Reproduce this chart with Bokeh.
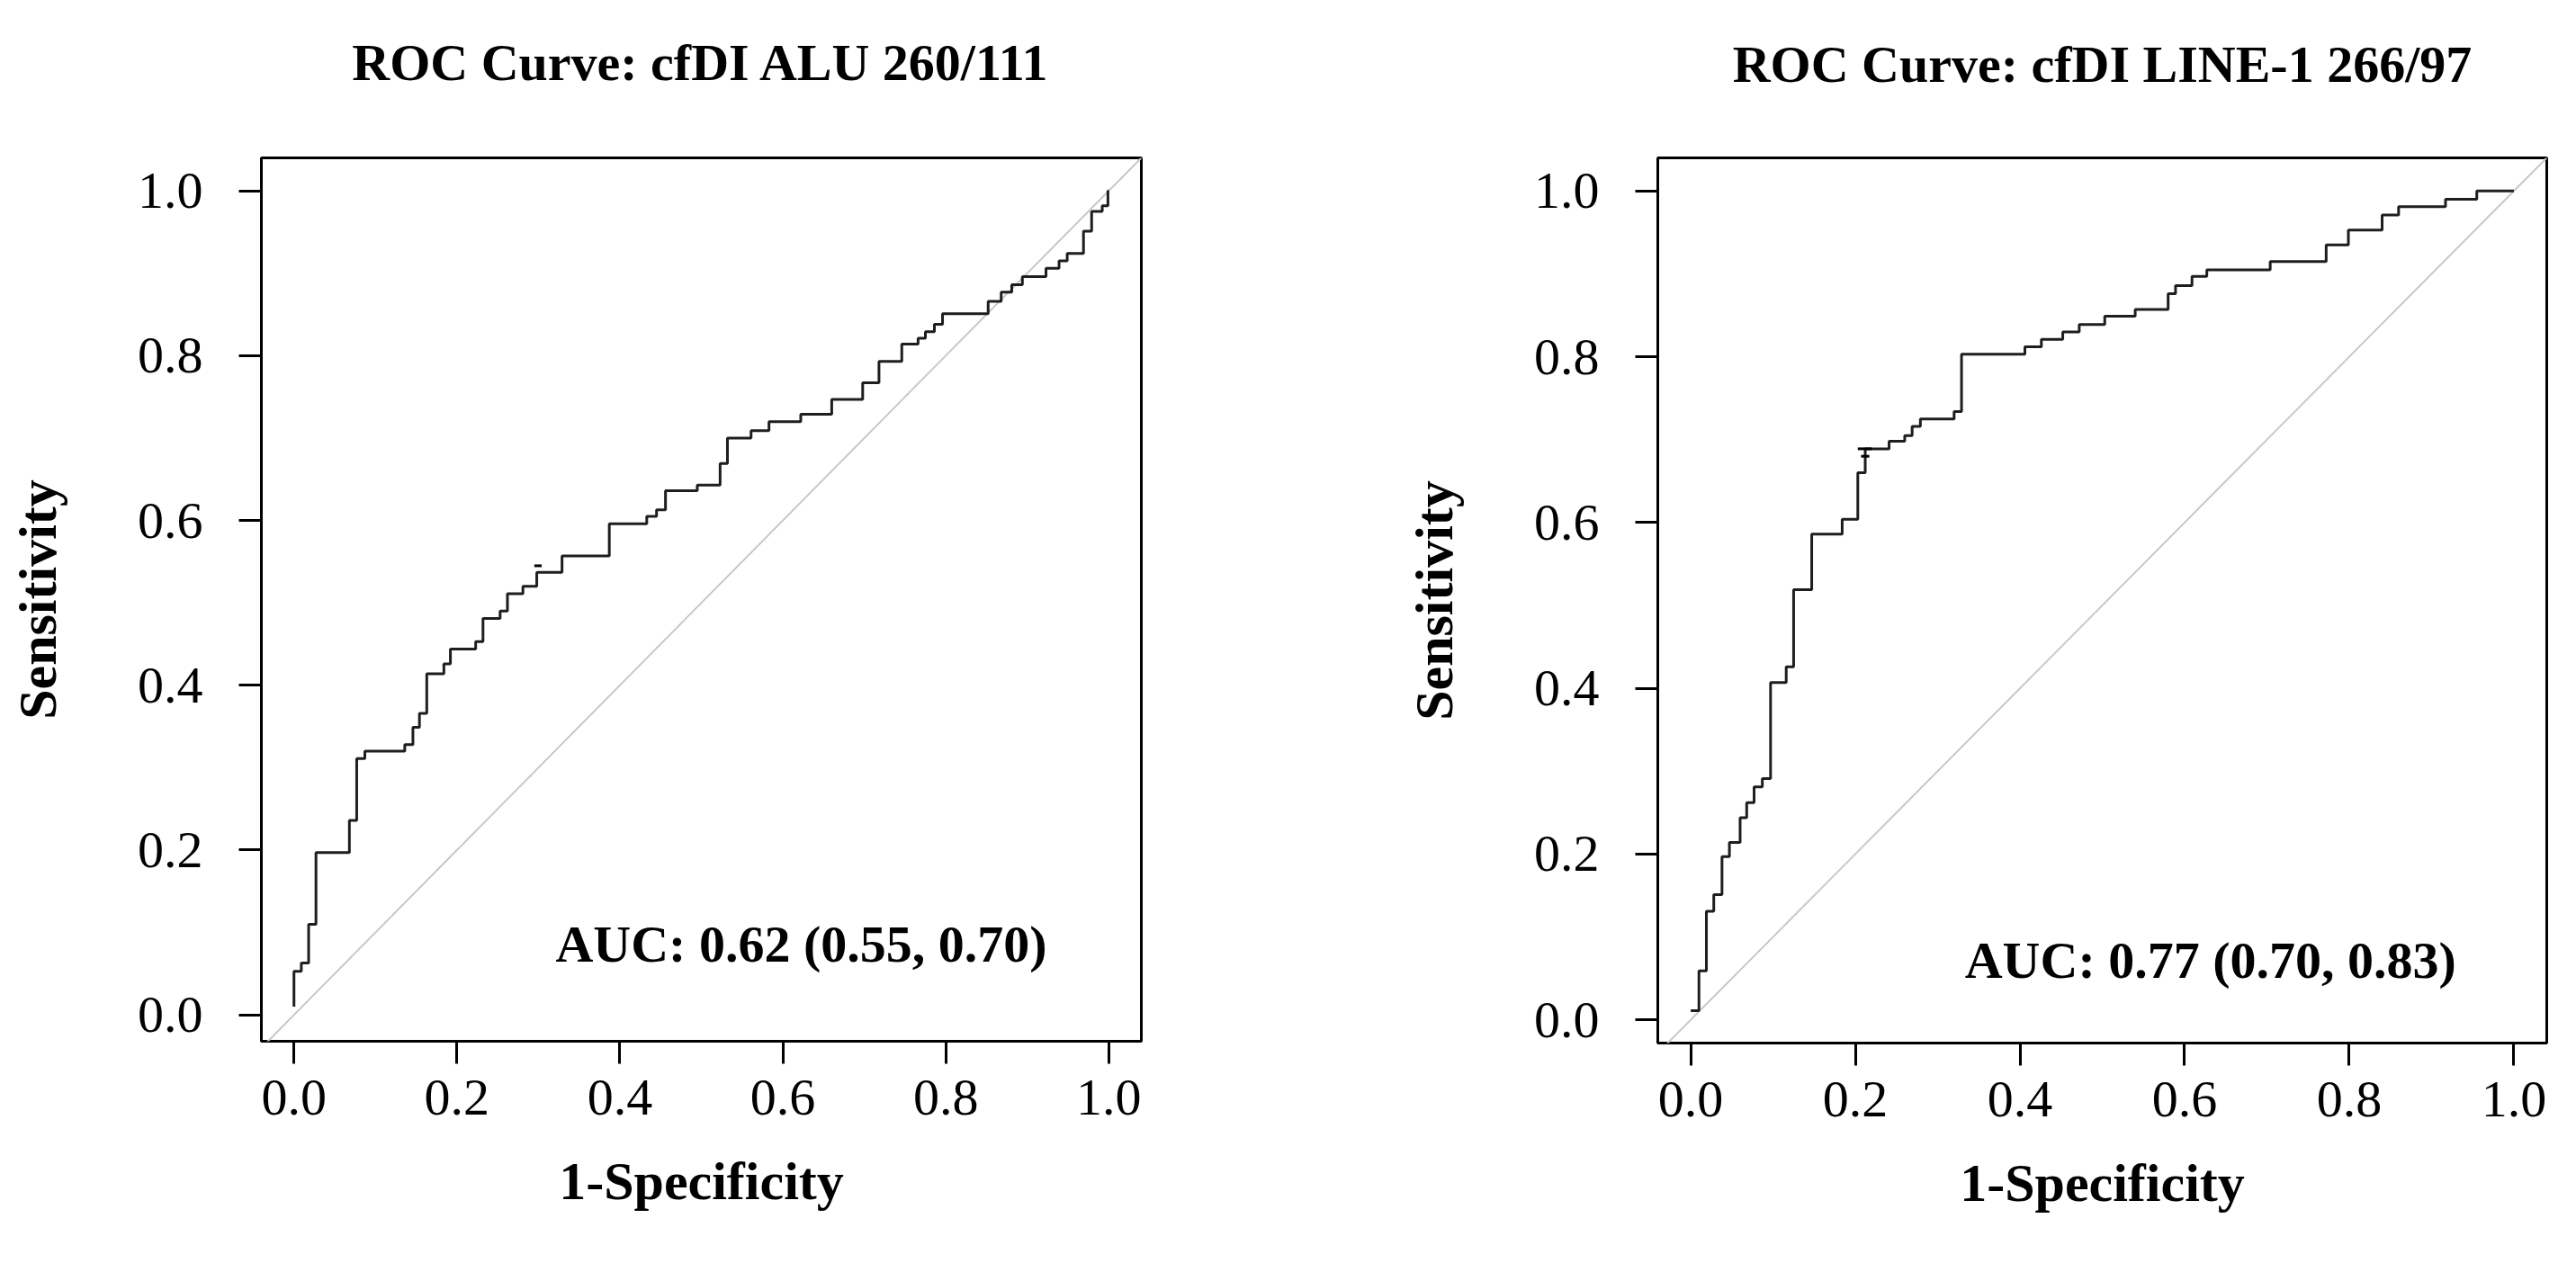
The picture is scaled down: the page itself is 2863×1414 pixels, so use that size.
from bokeh.plotting import figure
from bokeh.models import Range1d, FixedTicker, Label
from bokeh.layouts import row, column
from bokeh.core.properties import value
from bokeh.embed import file_html
from bokeh.resources import INLINE

# ---------------- data ----------------
ticks = [0.0, 0.2, 0.4, 0.6, 0.8, 1.0]
tick_labels = ["0.0", "0.2", "0.4", "0.6", "0.8", "1.0"]

alu_title = "ROC Curve: cfDI ALU 260/111"
alu_auc = "AUC: 0.62 (0.55, 0.70)"
alu_fpr = [0.000, 0.000, 0.009, 0.018, 0.027, 0.068, 0.077, 0.087, 0.136, 0.146,
           0.154, 0.163, 0.184, 0.192, 0.223, 0.232, 0.253, 0.262, 0.281, 0.298,
           0.329, 0.387, 0.433, 0.445, 0.456, 0.495, 0.523, 0.532, 0.561, 0.583,
           0.622, 0.660, 0.698, 0.718, 0.746, 0.766, 0.775, 0.786, 0.796, 0.852,
           0.868, 0.881, 0.894, 0.923, 0.939, 0.949, 0.969, 0.979, 0.992, 0.999, 1.000]
alu_tpr = [0.010, 0.053, 0.063, 0.110, 0.197, 0.236, 0.311, 0.320, 0.328, 0.349,
           0.366, 0.414, 0.426, 0.444, 0.453, 0.481, 0.490, 0.511, 0.520, 0.537,
           0.557, 0.596, 0.605, 0.613, 0.636, 0.643, 0.669, 0.700, 0.709, 0.720,
           0.729, 0.747, 0.767, 0.793, 0.814, 0.821, 0.829, 0.838, 0.851, 0.866,
           0.877, 0.886, 0.896, 0.906, 0.915, 0.924, 0.951, 0.975, 0.982, 1.000, 1.000]
alu_mark_x0 = [0.295]
alu_mark_x1 = [0.304]
alu_mark_y = [0.545]

line_title = "ROC Curve: cfDI LINE-1 266/97"
line_auc = "AUC: 0.77 (0.70, 0.83)"
line_fpr = [0.000, 0.010, 0.019, 0.028, 0.038, 0.047, 0.060, 0.068, 0.077, 0.087,
            0.097, 0.116, 0.125, 0.147, 0.184, 0.203, 0.212, 0.241, 0.260, 0.269,
            0.279, 0.320, 0.329, 0.406, 0.426, 0.452, 0.472, 0.503, 0.540, 0.580,
            0.589, 0.609, 0.627, 0.704, 0.772, 0.799, 0.840, 0.860, 0.917, 0.955, 1.000]
line_tpr = [0.011, 0.059, 0.131, 0.151, 0.197, 0.214, 0.244, 0.262, 0.281, 0.291,
            0.407, 0.426, 0.519, 0.586, 0.604, 0.660, 0.689, 0.698, 0.705, 0.716,
            0.725, 0.734, 0.803, 0.812, 0.821, 0.830, 0.839, 0.849, 0.857, 0.876,
            0.886, 0.897, 0.905, 0.915, 0.935, 0.953, 0.971, 0.981, 0.990, 1.000, 1.000]
line_mark_x0 = [0.203, 0.207]
line_mark_x1 = [0.220, 0.217]
line_mark_y = [0.689, 0.680]

FONT = "Liberation Serif"
TITLE_H = 110


def title_fig(text, frame_w, bl, br, baseline_from_top):
    t = figure(frame_width=frame_w, frame_height=TITLE_H,
               x_range=Range1d(0, 1), y_range=Range1d(0, 1),
               output_backend="svg", toolbar_location=None,
               min_border_left=bl, min_border_right=br,
               min_border_top=0, min_border_bottom=0,
               background_fill_color="white", border_fill_color="white")
    t.axis.visible = False
    t.grid.visible = False
    t.outline_line_color = None
    t.text(x=[0.5], y=[1 - baseline_from_top / TITLE_H], text=[text],
           text_align="center", text_baseline="alphabetic",
           text_font=value(FONT), text_font_style="bold",
           text_font_size="58px", text_color="black")
    return t


def panel(auc, fpr, tpr, mx0, mx1, my, yr, frame_w, frame_h,
          bl, br, bt, bb, auc_x, auc_y):
    p = figure(frame_width=frame_w, frame_height=frame_h,
               x_range=Range1d(-0.04, 1.04), y_range=Range1d(*yr),
               output_backend="svg", toolbar_location=None,
               min_border_left=bl, min_border_right=br,
               min_border_top=bt, min_border_bottom=bb,
               background_fill_color="white", border_fill_color="white")
    p.grid.visible = False
    p.outline_line_color = "black"
    p.outline_line_width = 3
    p.outline_line_alpha = 1.0

    # diagonal reference line
    p.line([-0.1, 1.1], [-0.1, 1.1], line_color="#c8c8c8", line_width=2)
    # ROC step curve
    p.step(fpr, tpr, mode="after", line_color="#1e1e1e", line_width=3)
    p.segment(x0=mx0, y0=my, x1=mx1, y1=my, line_color="black", line_width=3)

    for ax in (p.xaxis[0], p.yaxis[0]):
        ax.ticker = FixedTicker(ticks=ticks)
        ax.major_label_overrides = {t: l for t, l in zip(ticks, tick_labels)}
        ax.minor_tick_line_color = None
        ax.axis_line_color = None
        ax.major_tick_in = 0
        ax.major_tick_out = 25
        ax.major_tick_line_width = 3
        ax.major_tick_line_color = "black"
        ax.major_label_text_font = FONT
        ax.major_label_text_font_size = "58px"
        ax.major_label_text_color = "black"
        ax.axis_label_text_font = FONT
        ax.axis_label_text_font_style = "bold"
        ax.axis_label_text_font_size = "60px"
        ax.axis_label_text_color = "black"

    p.xaxis.axis_label = "1-Specificity"
    p.yaxis.axis_label = "Sensitivity"
    p.xaxis.major_label_standoff = 18
    p.yaxis.major_label_standoff = 40
    p.xaxis.axis_label_standoff = 38
    p.yaxis.axis_label_standoff = 75

    p.add_layout(Label(x=auc_x, y=auc_y, text=auc, text_align="left",
                       text_baseline="alphabetic", text_font=FONT,
                       text_font_style="bold", text_font_size="58px",
                       text_color="black"))
    return p


t1 = title_fig(alu_title, 978, 290, 277, 69)
p1 = panel(alu_auc, alu_fpr, alu_tpr, alu_mark_x0, alu_mark_x1, alu_mark_y,
           (-0.032, 1.040), 978, 982, 290, 277, 175 - TITLE_H, 241, 0.321, 0.086)
t2 = title_fig(line_title, 988, 297, 10, 71)
p2 = panel(line_auc, line_fpr, line_tpr, line_mark_x0, line_mark_x1, line_mark_y,
           (-0.028, 1.040), 988, 984, 297, 10, 175 - TITLE_H, 239, 0.333, 0.072)

layout = row(column(t1, p1), column(t2, p2))
open("out.html", "w").write(file_html(layout, INLINE))
